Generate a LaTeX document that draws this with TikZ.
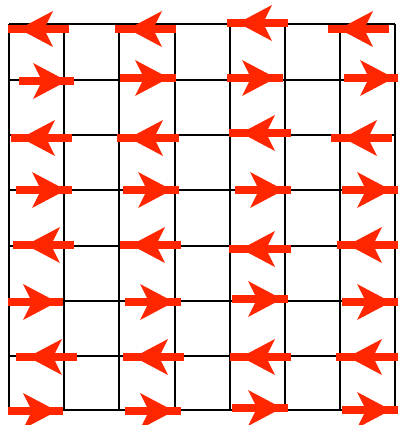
\documentclass[tikz,border=0pt]{standalone}
\definecolor{arr}{RGB}{255,38,0}
\tikzset{
  grid line/.style={line width=2.3pt, black},
  bar/.style={line width=7.5pt, draw=arr},
  head/.style={fill=arr}
}
\begin{document}
\begin{tikzpicture}[x=1pt,y=-1pt]
\useasboundingbox (0,0) rectangle (398,425);
\foreach \x in {9,64,119,175,230,285,340,395}
  \draw[grid line] (\x,24) -- (\x,410);
\foreach \y in {24,80,135,190,246,301,356,410}
  \draw[grid line] (9,\y) -- (395,\y);
% x1/x2/y/barb/direction
\foreach \a/\b/\y/\c/\d in {
  8/69/29/53/-1, 115/176/29/162/-1, 227/288/23/272/-1, 328/389/29/373/-1,
  19/74/81/33/1, 120/176/78/135/1, 227/283/78/242/1, 344/398/78/360/1,
  11/72/138/55/-1, 117/179/138/163/-1, 229/291/133/275/-1, 331/392/138/377/-1,
  16/72/190/32/1, 123/179/190/138/1, 235/291/190/250/1, 342/398/190/357/1,
  13/74/245/60/-1, 120/181/245/165/-1, 229/291/249/275/-1, 337/398/245/382/-1,
  8/63/302/23/1, 125/181/302/140/1, 232/288/299/248/1, 342/398/302/357/1,
  16/77/357/62/-1, 123/184/357/168/-1, 230/291/357/275/-1, 336/398/357/382/-1,
  8/63/411/23/1, 125/181/411/140/1, 232/288/408/248/1, 342/398/410/357/1}
{
  \draw[bar] (\a,\y) -- (\b,\y);
  \fill[head] ({\c+\d*34},\y) -- (\c,{\y-18}) -- ({\c+\d*9},\y) -- (\c,{\y+18}) -- cycle;
}
\end{tikzpicture}
\end{document}
